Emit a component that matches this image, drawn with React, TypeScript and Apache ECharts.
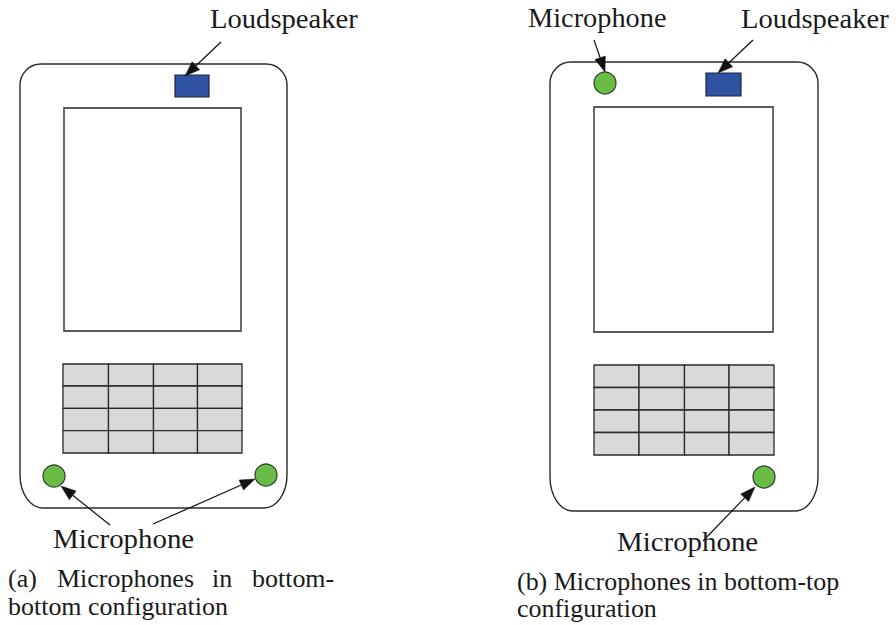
import React, { useEffect, useRef } from "react";
import * as echarts from "echarts";

// ---- Diagram content (named arrays) ----
const labelTexts = ["Loudspeaker", "Microphone"];
const captionA = ["(a)", "Microphones", "in", "bottom-"];
const captionA2 = "bottom configuration";
const captionB = "(b) Microphones in bottom-top";
const captionB2 = "configuration";

// phone outlines: [left, top, right, bottom, topRadius, bottomRadiusX, bottomRadiusY]
const phoneOutlines = [
  [20, 64, 287, 508, 21, 23, 33],
  [550, 62, 818, 511, 21, 23, 34],
];
// screens: [x0, y0, x1, y1]
const screens = [
  [64, 108, 241, 331],
  [594, 107, 773, 332],
];
// keypad grid lines
const keypadColsA = [63, 108.5, 153.5, 197.5, 242];
const keypadRowsA = [364, 386, 408.3, 430.7, 453];
const keypadColsB = [594, 639, 684.5, 729, 774];
const keypadRowsB = [365, 387.5, 410, 432.5, 455];
// loudspeakers: [x0, y0, x1, y1]
const speakers = [
  [175, 75, 209, 97],
  [706, 73, 741, 96],
];
// microphones: [cx, cy, r]
const mics = [
  [54, 476, 11],
  [266, 475, 11],
  [605, 83, 11],
  [764, 477, 11],
];
// arrows: [fromX, fromY, tipX, tipY]
const arrows = [
  [221, 42, 185, 76],
  [110, 525, 61, 486],
  [153, 524, 255, 479],
  [594, 40, 605, 72],
  [753, 40, 718, 73],
  [703, 541, 755, 487],
];

// texts: [text, left, baseline, fontSize, scaleX]
const FONT = "'Liberation Serif', 'Times New Roman', serif";

function outlinePath(o: number[]) {
  const [l, t, r, b, rt, rbx, rby] = o;
  const k = 0.5523;
  return [
    `M ${l + rt} ${t}`,
    `L ${r - rt} ${t}`,
    `C ${r - rt + k * rt} ${t} ${r} ${t + rt - k * rt} ${r} ${t + rt}`,
    `L ${r} ${b - rby}`,
    `C ${r} ${b - rby + k * rby} ${r - rbx + k * rbx} ${b} ${r - rbx} ${b}`,
    `L ${l + rbx} ${b}`,
    `C ${l + rbx - k * rbx} ${b} ${l} ${b - rby + k * rby} ${l} ${b - rby}`,
    `L ${l} ${t + rt}`,
    `C ${l} ${t + rt - k * rt} ${l + rt - k * rt} ${t} ${l + rt} ${t}`,
    "Z",
  ].join(" ");
}

let registered = false;
function registerShapes() {
  if (registered) return;
  phoneOutlines.forEach((o, i) => {
    echarts.graphic.registerShape(
      "phoneOutline" + i,
      echarts.graphic.extendPath(outlinePath(o), {}) as any
    );
  });
  registered = true;
}

function textEl(text: string, left: number, baseline: number, fontSize: number, scaleX: number) {
  return {
    type: "text",
    x: left,
    y: baseline - fontSize * 0.33,
    scaleX,
    style: {
      text,
      fontSize,
      fontFamily: FONT,
      fill: "#1a1a1a",
      align: "left",
      verticalAlign: "middle",
    },
  };
}

function buildElements() {
  const els: any[] = [];
  // outlines
  phoneOutlines.forEach((_, i) => {
    els.push({
      type: "phoneOutline" + i,
      x: 0,
      y: 0,
      style: { fill: "none", stroke: "#2a2a2a", lineWidth: 1.4 },
    });
  });
  // screens
  screens.forEach(([x0, y0, x1, y1]) => {
    els.push({
      type: "rect",
      shape: { x: x0, y: y0, width: x1 - x0, height: y1 - y0 },
      style: { fill: "#ffffff", stroke: "#5a5a5a", lineWidth: 1.8 },
    });
  });
  // keypads
  const keypads = [
    [keypadColsA, keypadRowsA],
    [keypadColsB, keypadRowsB],
  ];
  keypads.forEach(([cols, rows]) => {
    for (let r = 0; r < rows.length - 1; r++) {
      for (let c = 0; c < cols.length - 1; c++) {
        els.push({
          type: "rect",
          shape: {
            x: cols[c],
            y: rows[r],
            width: cols[c + 1] - cols[c],
            height: rows[r + 1] - rows[r],
          },
          style: { fill: "#d8d9db", stroke: "#2a2a2a", lineWidth: 1.3 },
        });
      }
    }
  });
  // speakers
  speakers.forEach(([x0, y0, x1, y1]) => {
    els.push({
      type: "rect",
      shape: { x: x0, y: y0, width: x1 - x0, height: y1 - y0 },
      style: { fill: "#2f52a3", stroke: "#1c2444", lineWidth: 1.2 },
    });
  });
  // microphones
  mics.forEach(([cx, cy, r]) => {
    els.push({
      type: "circle",
      shape: { cx, cy, r },
      style: { fill: "#69bc45", stroke: "#2e3a2a", lineWidth: 1.2 },
    });
  });
  // arrows
  arrows.forEach(([x1, y1, x2, y2]) => {
    const dx = x2 - x1;
    const dy = y2 - y1;
    const len = Math.sqrt(dx * dx + dy * dy);
    const ux = dx / len;
    const uy = dy / len;
    const headLen = 15;
    const headHalf = 5.5;
    const bx = x2 - ux * headLen;
    const by = y2 - uy * headLen;
    els.push({
      type: "line",
      shape: { x1, y1, x2: bx, y2: by },
      style: { stroke: "#111", lineWidth: 1.2 },
    });
    els.push({
      type: "polygon",
      shape: {
        points: [
          [x2, y2],
          [bx - uy * headHalf, by + ux * headHalf],
          [bx + uy * headHalf, by - ux * headHalf],
        ],
      },
      style: { fill: "#111", stroke: "#111", lineWidth: 0.5 },
    });
  });
  // labels
  els.push(textEl(labelTexts[0], 210, 28, 27, 1.06));
  els.push(textEl(labelTexts[0], 741, 28, 27, 1.06));
  els.push(textEl(labelTexts[1], 528, 27, 27, 1.05));
  els.push(textEl(labelTexts[1], 53, 548, 27, 1.07));
  els.push(textEl(labelTexts[1], 617, 551, 27, 1.07));
  // captions
  const capXs = [8, 57, 212, 252];
  captionA.forEach((w, i) => {
    els.push(textEl(w, capXs[i], 587, 24.5, 1.06));
  });
  els.push(textEl(captionA2, 8, 615, 24.5, 1.06));
  els.push(textEl(captionB, 517, 590, 24.5, 1.06));
  els.push(textEl(captionB2, 517, 617, 24.5, 1.06));
  return els;
}

export default function App() {
  const ref = useRef<HTMLDivElement>(null);
  useEffect(() => {
    document.body.style.margin = "0";
    document.body.style.background = "#ffffff";
    registerShapes();
    const chart = echarts.init(ref.current!, undefined, { renderer: "svg" });
    chart.setOption({
      animation: false,
      backgroundColor: "#ffffff",
      graphic: { elements: buildElements() },
    });
    return () => chart.dispose();
  }, []);
  return <div ref={ref} style={{ width: 896, height: 625 }} />;
}
